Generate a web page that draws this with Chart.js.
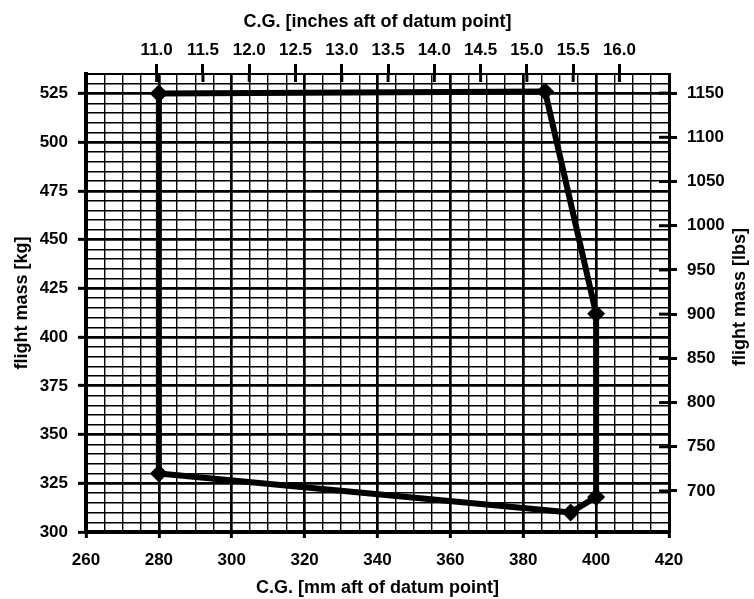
<!DOCTYPE html>
<html>
<head>
<meta charset="utf-8">
<script src="https://cdn.jsdelivr.net/npm/chart.js@4"></script>
<style>
  body { margin: 0; background: #fff; }
  #wrap { width: 754px; height: 599px; }
</style>
</head>
<body>
<div id="wrap"><canvas id="cgChart"></canvas></div>
<script>
// envelope corners, mm aft of datum vs flight mass in kg
const cgMm = [280, 386, 400, 400, 393, 280, 280];
const massKg = [525, 526, 412, 318, 310, 330, 525];

const inchTicks = [11.0, 11.5, 12.0, 12.5, 13.0, 13.5, 14.0, 14.5, 15.0, 15.5, 16.0];
const lbsTicks = [700, 750, 800, 850, 900, 950, 1000, 1050, 1100, 1150];

const mmMin = 260, mmMax = 420;
const kgMin = 300, kgMax = 535;
const lbsMin = 653.6, lbsMax = 1171.6;

const points = cgMm.map((x, i) => ({ x: x, y: massKg[i] }));

const fontFamily = 'Liberation Sans, Arial, sans-serif';
const tickFont = { family: fontFamily, size: 17, weight: 'bold' };
const titleFont = { family: fontFamily, size: 18, weight: 'bold' };

const isMajorX = v => v % 20 === 0;
const isMajorY = v => v % 25 === 0;

// short inward tick marks on the top and right axes, plus the right title
// (drawn here so it reads bottom-to-top like the left one)
const extras = {
  id: 'extras',
  afterDraw(chart) {
    const c = chart.ctx, a = chart.chartArea;
    c.save();
    c.strokeStyle = '#000';
    c.lineWidth = 3;
    inchTicks.forEach(v => {
      const px = chart.scales.x2.getPixelForValue(v);
      c.beginPath(); c.moveTo(px, a.top); c.lineTo(px, a.top + 8); c.stroke();
    });
    lbsTicks.forEach(v => {
      const py = chart.scales.y2.getPixelForValue(v);
      c.beginPath(); c.moveTo(a.right - 10, py); c.lineTo(a.right, py); c.stroke();
    });
    c.translate(chart.width - 14, (a.top + a.bottom) / 2 - 6);
    c.rotate(-Math.PI / 2);
    c.fillStyle = '#000';
    c.font = 'bold 18px ' + fontFamily;
    c.textAlign = 'center';
    c.textBaseline = 'middle';
    c.fillText('flight mass [lbs]', 0, 0);
    c.restore();
  }
};

new Chart(document.getElementById('cgChart'), {
  type: 'scatter',
  data: {
    datasets: [{
      data: points,
      showLine: true,
      borderColor: '#000',
      backgroundColor: '#000',
      borderWidth: 6,
      borderJoinStyle: 'round',
      pointStyle: 'rectRot',
      pointRadius: 9,
      pointBorderWidth: 0,
      clip: false
    }]
  },
  options: {
    responsive: true,
    maintainAspectRatio: false,
    animation: false,
    events: [],
    layout: { padding: 0 },
    plugins: { legend: { display: false }, tooltip: { enabled: false } },
    scales: {
      x: {
        type: 'linear',
        position: 'bottom',
        min: mmMin, max: mmMax,
        afterFit: s => { s.height = 67; },
        ticks: {
          stepSize: 5,
          color: '#000',
          font: tickFont,
          padding: 12,
          maxRotation: 0,
          autoSkip: false,
          callback: v => isMajorX(v) ? v : ''
        },
        grid: {
          color: '#000',
          lineWidth: c => isMajorX(c.tick.value) ? 2.7 : 1.4,
          tickLength: 6,
          tickColor: c => isMajorX(c.tick.value) ? '#000' : 'rgba(0,0,0,0)',
          tickWidth: 3
        },
        border: { color: '#000', width: 4 },
        title: {
          display: true,
          text: 'C.G. [mm aft of datum point]',
          color: '#000',
          font: titleFont,
          padding: { top: 3, bottom: 0 }
        }
      },
      y: {
        type: 'linear',
        position: 'left',
        min: kgMin, max: kgMax,
        afterFit: s => { s.width = 86; },
        ticks: {
          stepSize: 5,
          color: '#000',
          font: tickFont,
          padding: 10,
          autoSkip: false,
          callback: v => isMajorY(v) ? v : ''
        },
        grid: {
          color: '#000',
          lineWidth: c => isMajorY(c.tick.value) ? 2.7 : 1.4,
          tickLength: 8,
          tickColor: c => isMajorY(c.tick.value) ? '#000' : 'rgba(0,0,0,0)',
          tickWidth: 3
        },
        border: { color: '#000', width: 4 },
        title: {
          display: true,
          text: 'flight mass [kg]',
          color: '#000',
          font: titleFont,
          padding: { top: 11, bottom: 0 }
        }
      },
      x2: {
        type: 'linear',
        position: 'top',
        min: mmMin / 25.4, max: mmMax / 25.4,
        afterFit: s => { s.height = 74; },
        afterBuildTicks: s => { s.ticks = inchTicks.map(v => ({ value: v })); },
        ticks: {
          color: '#000',
          font: tickFont,
          padding: 3,
          maxRotation: 0,
          autoSkip: false,
          callback: v => v.toFixed(1)
        },
        grid: {
          drawOnChartArea: false,
          tickLength: 10,
          tickColor: '#000',
          tickWidth: 3
        },
        border: { color: '#000', width: 2 },
        title: {
          display: true,
          text: 'C.G. [inches aft of datum point]',
          color: '#000',
          font: titleFont,
          padding: { top: 11, bottom: 0 }
        }
      },
      y2: {
        type: 'linear',
        position: 'right',
        min: lbsMin, max: lbsMax,
        afterFit: s => { s.width = 85; },
        afterBuildTicks: s => { s.ticks = lbsTicks.map(v => ({ value: v })); },
        ticks: {
          color: '#000',
          font: tickFont,
          padding: 10,
          autoSkip: false,
          callback: v => String(v)
        },
        grid: {
          drawOnChartArea: false,
          tickLength: 8,
          tickColor: '#000',
          tickWidth: 3
        },
        border: { color: '#000', width: 3 },
        title: { display: false }
      }
    }
  },
  plugins: [extras]
});
</script>
</body>
</html>
